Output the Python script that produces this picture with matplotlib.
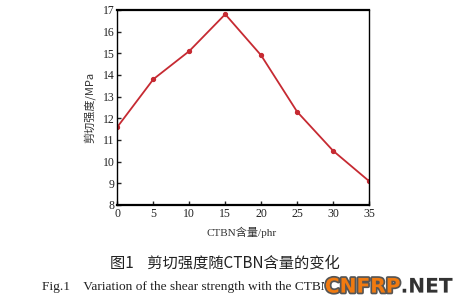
import matplotlib
matplotlib.use("Agg")
import matplotlib.pyplot as plt
import matplotlib.patheffects as pe
from matplotlib.patches import Rectangle

ctbn = [0, 5, 10, 15, 20, 25, 30, 35]
strength = [11.6, 13.8, 15.1, 16.8, 14.9, 12.3, 10.5, 9.1]
xticks = [0, 5, 10, 15, 20, 25, 30, 35]
yticks = [8, 9, 10, 11, 12, 13, 14, 15, 16, 17]

plt.rcParams['font.family'] = ['Liberation Serif', 'Noto Sans CJK SC']

fig = plt.figure(figsize=(4.55, 3.0), dpi=100)
ax = fig.add_axes([0.258, 0.317, 0.553, 0.650])
ax.plot(ctbn, strength, color='#c62a32', lw=1.3, marker='o', ms=2.8,
        mfc='#c62a32', mec='#c62a32')
ax.set_xlim(0, 35)
ax.set_ylim(8, 17)
ax.set_xticks(xticks)
ax.set_yticks(yticks)
ax.tick_params(direction='in', length=3, width=1, labelsize=8.5, pad=2,
               top=False, right=False, colors='#222222')
for s in ['top', 'bottom']:
    ax.spines[s].set_linewidth(1.6)
for s in ['left', 'right']:
    ax.spines[s].set_linewidth(1.0)
ax.set_ylabel('剪切强度/MPa', fontsize=8, family=['Noto Sans CJK SC', 'Liberation Serif'],
              labelpad=5, color='#333333')

fig.text(0.532, 0.227, 'CTBN含量/phr', ha='center', va='center', fontsize=8,
         family=['Liberation Serif', 'Noto Sans CJK SC'], color='#333333')
fig.text(0.495, 0.123, '图1    剪切强度随CTBN含量的变化', ha='center', va='center',
         fontsize=11, family=['Noto Sans CJK SC', 'Liberation Serif'], color='#222222')
fig.text(0.092, 0.043, 'Fig.1    Variation of the shear strength with the CTBN content',
         ha='left', va='center', fontsize=9.6, color='#222222', zorder=1)

# watermark mask
fig.patches.append(Rectangle((0.712, 0.0), 0.288, 0.09, transform=fig.transFigure,
                             facecolor='white', edgecolor='none', zorder=2))
wm = fig.text(0.714, 0.043, 'CNFRP', ha='left', va='center', fontsize=14.5,
              fontweight='bold', family='DejaVu Sans', color='#f07a10', zorder=3)
wm.set_path_effects([pe.withStroke(linewidth=2.5, foreground='#555555')])
fig.canvas.draw()
bb = wm.get_window_extent()
x_end = bb.x1 / fig.bbox.width
wm2 = fig.text(x_end, 0.043, '.NET', ha='left', va='center', fontsize=14.5,
               fontweight='bold', family='DejaVu Sans', color='#333333', zorder=3)
wm2.set_path_effects([pe.withStroke(linewidth=2.5, foreground='white')])

fig.savefig('out.png', dpi=100)
